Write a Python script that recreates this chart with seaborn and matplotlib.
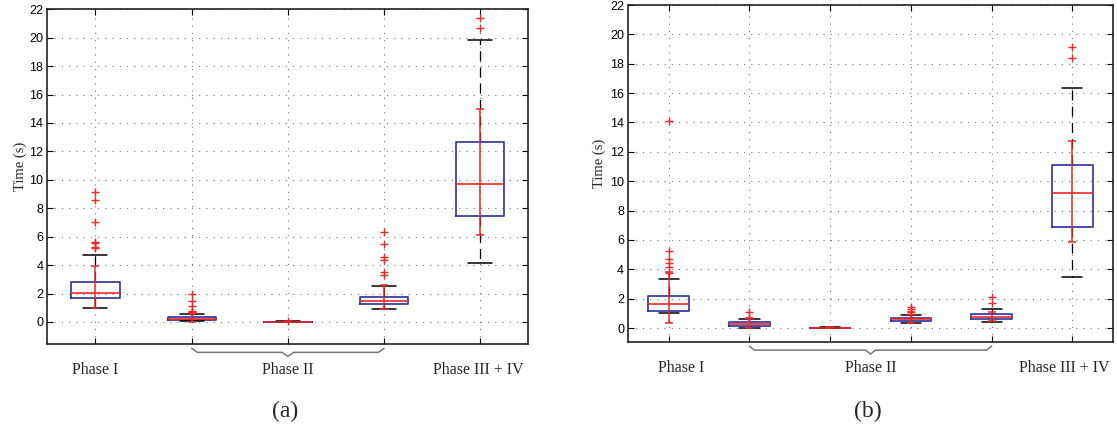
import numpy as np
import matplotlib
matplotlib.use("Agg")
import matplotlib.pyplot as plt
import matplotlib.transforms as mtransforms
import seaborn as sns

# box statistics, panel (a)
a_q1 = [1.67, 0.14, 0.01, 1.25, 7.43]
a_med = [2.02, 0.23, 0.02, 1.50, 9.69]
a_q3 = [2.84, 0.33, 0.03, 1.76, 12.66]
a_wlo = [1.01, 0.05, 0.00, 0.90, 4.16]
a_whi = [4.68, 0.59, 0.04, 2.54, 19.85]
a_err_lo = [1.00, 0.02, 0.00, 0.90, 6.14]
a_err_hi = [3.95, 0.62, 0.08, 2.58, 14.96]
a_fliers = [[9.15, 8.6, 7.05, 5.65, 5.55, 5.3, 5.2],
            [2.0, 1.5, 1.1, 0.78, 0.72, 0.67, 0.63],
            [0.05],
            [6.3, 5.5, 4.6, 4.35, 3.55, 3.3],
            [21.4, 20.7]]

# panel (b)
b_q1 = [1.18, 0.14, 0.01, 0.45, 0.61, 6.86]
b_med = [1.66, 0.25, 0.02, 0.59, 0.77, 9.17]
b_q3 = [2.18, 0.39, 0.03, 0.70, 0.95, 11.10]
b_wlo = [1.00, 0.02, 0.00, 0.32, 0.39, 3.50]
b_whi = [3.32, 0.61, 0.04, 0.89, 1.31, 16.37]
b_err_lo = [0.36, 0.03, 0.00, 0.33, 0.45, 5.84]
b_err_hi = [3.80, 0.70, 0.05, 1.07, 1.07, 12.76]
b_fliers = [[14.1, 5.24, 4.68, 4.4, 4.13, 3.77],
            [1.07, 0.7, 0.66],
            [],
            [1.45, 1.27, 1.07, 0.95],
            [2.09, 1.68],
            [19.16, 18.4]]

phase_labels = ["Phase I", "Phase II", "Phase III + IV"]
panel_names = ["(a)", "(b)"]

sns.set_theme(style="ticks")
plt.rcParams["font.family"] = ["Liberation Sans", "DejaVu Sans"]

BLUE = "#2b2f9e"
RED = "#f02828"


def draw_panel(ax, q1, med, q3, wlo, whi, elo, ehi, fliers, ylow, brace, label_x, ylab_x):
    n = len(q1)
    pos = np.arange(1, n + 1)
    stats = []
    for i in range(n):
        stats.append(dict(q1=q1[i], med=med[i], q3=q3[i], whislo=wlo[i],
                          whishi=whi[i], fliers=[]))
    ax.bxp(stats, positions=pos, widths=0.5, capwidths=0.25, showfliers=False,
           boxprops=dict(color=BLUE, lw=1.2),
           medianprops=dict(color=RED, lw=1.2),
           whiskerprops=dict(color="black", lw=0.9, linestyle=(0, (8, 5))),
           capprops=dict(color="black", lw=1.1),
           manage_ticks=False)
    # red error bars
    ax.vlines(pos, elo, ehi, color=RED, lw=1.1, zorder=4)
    ax.plot(pos, elo, "_", color=RED, ms=6, mew=1.1, zorder=4)
    ax.plot(pos, ehi, "_", color=RED, ms=6, mew=1.1, zorder=4)
    # outliers
    for p, f in zip(pos, fliers):
        if f:
            ax.plot([p] * len(f), f, "+", color=RED, ms=5.5, mew=1.0, zorder=5)

    ax.set_xlim(0.5, n + 0.5)
    ax.set_ylim(ylow, 22)
    ax.set_yticks(np.arange(0, 23, 2))
    ax.set_xticks(pos)
    ax.set_xticklabels([])
    ax.grid(True, color="#777777", lw=0.8, linestyle=(0, (1, 5.5)))
    ax.tick_params(direction="in", length=4, width=0.8, top=True, right=True,
                   labelsize=9, colors="black", pad=3)
    for s in ax.spines.values():
        s.set_color("#222222")
        s.set_linewidth(1.2)
        s.set_visible(True)
    ax.set_ylabel("Time (s)", family=["Liberation Serif"], fontsize=10.5)
    ax.yaxis.set_label_coords(ylab_x, 0.53)

    # phase labels below the axis
    tr = mtransforms.blended_transform_factory(ax.transData, ax.transAxes)
    for lx, lab in zip(label_x, phase_labels):
        ax.text(lx, -0.055, lab, transform=tr, ha="center", va="top",
                family=["Liberation Serif"], fontsize=11.5)
    # curly brace over the Phase II boxes
    x0, x1 = brace
    xc = (x0 + x1) / 2
    d = 0.06
    yb, h = -0.025, 0.012
    bx = [x0, x0 + d, xc - d, xc, xc + d, x1 - d, x1]
    by = [yb + h, yb, yb, yb - h, yb, yb, yb + h]
    ax.plot(bx, by, transform=tr, color="#777777", lw=1.1, clip_on=False)


fig = plt.figure(figsize=(11.17, 4.36), dpi=100)
ax1 = fig.add_axes([0.0424, 0.211, 0.4306, 0.7677])
ax2 = fig.add_axes([0.5625, 0.2163, 0.4337, 0.7722])

draw_panel(ax1, a_q1, a_med, a_q3, a_wlo, a_whi, a_err_lo, a_err_hi, a_fliers,
           -1.55, (2, 4), [1, 3, 4.98], -0.042)
draw_panel(ax2, b_q1, b_med, b_q3, b_wlo, b_whi, b_err_lo, b_err_hi, b_fliers,
           -0.93, (2, 5), [1.15, 3.5, 5.9], -0.046)

fig.text(0.255, 0.057, panel_names[0], ha="center", va="center",
         family=["Liberation Serif"], fontsize=17)
fig.text(0.777, 0.057, panel_names[1], ha="center", va="center",
         family=["Liberation Serif"], fontsize=17)

fig.savefig("out.png", dpi=100, facecolor="white")
